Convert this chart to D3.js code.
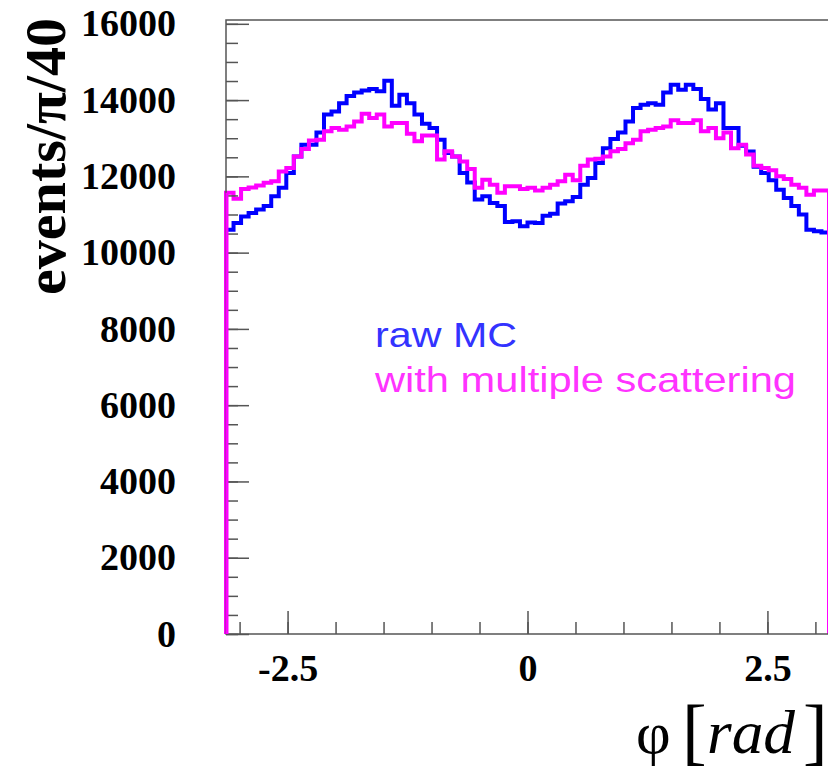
<!DOCTYPE html>
<html>
<head>
<meta charset="utf-8">
<script src="https://cdn.jsdelivr.net/npm/d3@7"></script>
<style>
  body { margin: 0; background: #fff; }
  svg { display: block; }
</style>
</head>
<body>
<div id="chart"></div>
<script>
// 80 bins of width pi/40 over [-pi, pi]
const nBins = 80;

const rawMC = [
  10600, 10780, 10950, 11040, 11130, 11220, 11480, 11700, 12090, 12520,
  12830, 12830, 13150, 13620, 13700, 13920, 14110, 14200, 14250, 14290,
  14230, 14510, 13850, 14140, 13920, 13620, 13380, 13270, 12960, 12610,
  12520, 12090, 11840, 11390, 11480, 11300, 11220, 10800, 10820, 10690,
  10790, 10780, 10970, 11020, 11290, 11350, 11460, 11780, 11960, 12350,
  12740, 12980, 13150, 13440, 13790, 13880, 13920, 13880, 14200, 14400,
  14270, 14400, 14290, 14030, 13750, 13920, 13270, 13270, 12800, 12650,
  12250, 12090, 11900, 11650, 11430, 11220, 11000, 10600, 10560, 10530
];

const multScatt = [
  11570, 11410, 11670, 11710, 11760, 11830, 11870, 12130, 12220, 12520,
  12720, 12940, 12960, 13180, 13270, 13220, 13310, 13440, 13640, 13530,
  13620, 13310, 13400, 13400, 13120, 12920, 13070, 13070, 12440, 12660,
  12520, 12390, 12190, 11700, 11910, 11780, 11570, 11740, 11740, 11670,
  11700, 11630, 11700, 11780, 11870, 12040, 11900, 12280, 12440, 12460,
  12520, 12660, 12720, 12870, 12960, 13180, 13220, 13270, 13310, 13470,
  13400, 13400, 13470, 13180, 13270, 13000, 13150, 12740, 12830, 12570,
  12280, 12220, 12160, 12000, 11930, 11780, 11700, 11520, 11630, 11630
];

const yMajorTicks = [0, 2000, 4000, 6000, 8000, 10000, 12000, 14000, 16000];
const yMinorTicks = d3.range(0, 16001, 500);
const xMajorTicks = [-2.5, 0, 2.5];
const xMinorTicks = [-3, -2.5, -2, -1.5, -1, -0.5, 0, 0.5, 1, 1.5, 2, 2.5, 3];
const legendLabels = ["raw MC", "with multiple scattering"];

const width = 828, height = 772;
const serif = "'Liberation Serif', 'Times New Roman', serif";
const sans = "'Liberation Sans', Arial, sans-serif";

let svg = d3.select("#chart").append("svg")
  .attr("width", width)
  .attr("height", height);

const x = d3.scaleLinear().domain([-Math.PI, Math.PI]).range([226, 829]);
const y = d3.scaleLinear().domain([0, 16100]).range([634, 20]);

const binW = 2 * Math.PI / nBins;
const edges = d3.range(nBins + 1).map((i) => -Math.PI + i * binW);

function stepPoints(vals) {
  const pts = [[edges[0], 0]];
  vals.forEach((v, i) => {
    pts.push([edges[i], v]);
    pts.push([edges[i + 1], v]);
  });
  pts.push([edges[nBins], 0]);
  return pts;
}

const line = d3.line()
  .x((d) => x(d[0]))
  .y((d) => y(d[1]));

// histograms
svg.append("path")
  .attr("d", line(stepPoints(rawMC)))
  .attr("fill", "none")
  .attr("stroke", "#0000ff")
  .attr("stroke-width", 4);

svg.append("path")
  .attr("d", line(stepPoints(multScatt)))
  .attr("fill", "none")
  .attr("stroke", "#ff00ff")
  .attr("stroke-width", 4);

// minor ticks
svg.append("g")
  .attr("transform", "translate(226,0)")
  .call(d3.axisLeft(y).tickValues(yMinorTicks).tickSize(-12).tickFormat(""))
  .call((g) => g.select(".domain").remove())
  .call((g) => g.selectAll("line").attr("stroke", "#555").attr("stroke-width", 1.5));

svg.append("g")
  .attr("transform", "translate(0,634)")
  .call(d3.axisBottom(x).tickValues(xMinorTicks).tickSize(-12).tickFormat(""))
  .call((g) => g.select(".domain").remove())
  .call((g) => g.selectAll("line").attr("stroke", "#555").attr("stroke-width", 1.5));

// major ticks with labels
svg.append("g")
  .attr("transform", "translate(226,0)")
  .call(d3.axisLeft(y).tickValues(yMajorTicks).tickSizeInner(-23).tickSizeOuter(0).tickPadding(50)
    .tickFormat((d) => String(d)))
  .call((g) => g.select(".domain").remove())
  .call((g) => g.selectAll("line").attr("stroke", "#555").attr("stroke-width", 1.5))
  .call((g) => g.selectAll("text")
    .attr("font-family", serif)
    .attr("font-weight", "bold")
    .attr("font-size", 38)
    .attr("fill", "#000"));

svg.append("g")
  .attr("transform", "translate(0,634)")
  .call(d3.axisBottom(x).tickValues(xMajorTicks).tickSizeInner(-23).tickSizeOuter(0).tickPadding(20)
    .tickFormat((d) => String(d)))
  .call((g) => g.select(".domain").remove())
  .call((g) => g.selectAll("line").attr("stroke", "#555").attr("stroke-width", 1.5))
  .call((g) => g.selectAll("text")
    .attr("font-family", serif)
    .attr("font-weight", "bold")
    .attr("font-size", 38)
    .attr("fill", "#000"));

// frame
svg.append("rect")
  .attr("x", x.range()[0])
  .attr("y", 20)
  .attr("width", x.range()[1] - x.range()[0])
  .attr("height", y(0) - 20)
  .attr("fill", "none")
  .attr("stroke", "#555")
  .attr("stroke-width", 1.5);

// magenta edge sits on top of the frame
svg.append("line")
  .attr("x1", x(-Math.PI) + 1).attr("x2", x(-Math.PI) + 1)
  .attr("y1", y(0)).attr("y2", y(multScatt[0]))
  .attr("stroke", "#ff00ff").attr("stroke-width", 3);

// y title
svg.append("text")
  .attr("transform", "translate(65,18) rotate(-90)")
  .attr("text-anchor", "end")
  .attr("font-family", serif)
  .attr("font-weight", "bold")
  .attr("font-size", 58)
  .attr("textLength", 277)
  .attr("lengthAdjust", "spacingAndGlyphs")
  .text("events/\u03c0/40");

// x title: phi [rad]
const xt = svg.append("g").attr("font-family", serif).attr("fill", "#000");
xt.append("text").attr("x", 636).attr("y", 753).attr("font-size", 60).text("\u03c6");
xt.append("text").attr("x", 682).attr("y", 756).attr("font-size", 74).text("[");
xt.append("text").attr("x", 707).attr("y", 753).attr("font-size", 62).attr("font-style", "italic")
  .attr("textLength", 88).attr("lengthAdjust", "spacingAndGlyphs").text("rad");
xt.append("text").attr("x", 803).attr("y", 756).attr("font-size", 74).text("]");

// legend texts
const legendColors = ["#3333ff", "#ff33ff"];
const legendY = [347, 392];
const legendLen = [142, 421];
svg.selectAll(".legend")
  .data(legendLabels)
  .join("text")
  .attr("class", "legend")
  .attr("x", 375)
  .attr("y", (d, i) => legendY[i])
  .attr("font-family", sans)
  .attr("font-size", 35)
  .attr("fill", (d, i) => legendColors[i])
  .attr("textLength", (d, i) => legendLen[i])
  .attr("lengthAdjust", "spacingAndGlyphs")
  .text((d) => d);
</script>
</body>
</html>
